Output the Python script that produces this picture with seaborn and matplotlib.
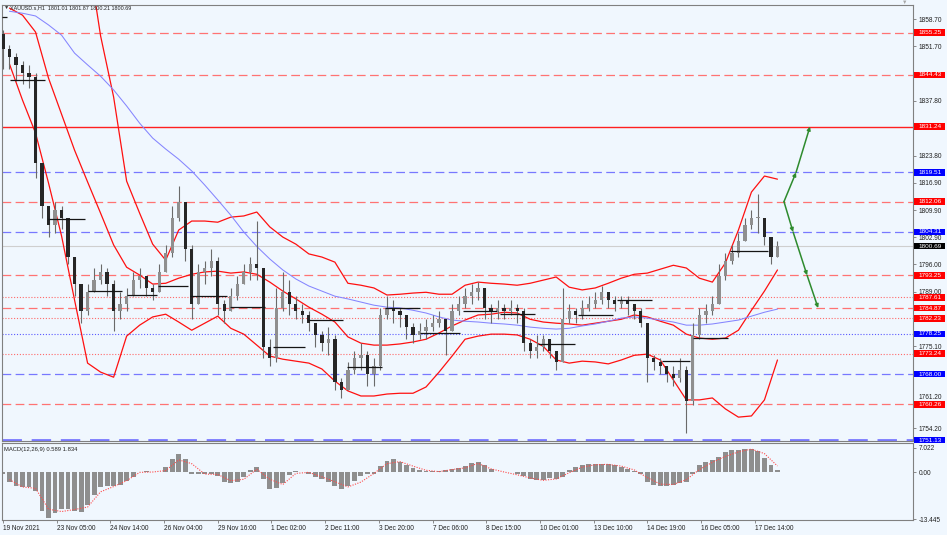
import numpy as np
import pandas as pd
import matplotlib
matplotlib.use("Agg")
import matplotlib.pyplot as plt
from matplotlib.patches import Rectangle
import matplotlib.transforms as mtransforms
import seaborn as sns

# ---------------- data ----------------
first_open = 1855.0
closes = [1851, 1849, 1847, 1845, 1844, 1822, 1811, 1806, 1810, 1808,
          1798, 1791, 1784, 1789, 1792, 1794, 1791, 1784, 1786, 1788,
          1792, 1793, 1790, 1789, 1794, 1799, 1808, 1812, 1800, 1786,
          1794, 1795, 1797, 1786, 1784, 1788, 1791, 1794, 1796, 1795,
          1775, 1772, 1785, 1789, 1786, 1784, 1783, 1781, 1778, 1776,
          1777, 1766, 1764, 1769, 1772, 1773, 1768, 1770, 1783, 1785,
          1784, 1783, 1780, 1778, 1779, 1780, 1781, 1782, 1779, 1784,
          1786, 1788, 1789, 1790, 1785, 1784, 1785, 1784, 1785, 1784,
          1776, 1774, 1775, 1777, 1774, 1771, 1782, 1784, 1783, 1785,
          1786, 1787, 1789, 1787, 1786, 1787, 1786, 1784, 1781, 1772,
          1771, 1770, 1768, 1767, 1769, 1761, 1778, 1783, 1784, 1786,
          1793, 1797, 1799, 1802, 1806, 1808, 1808, 1803, 1798, 1800.69]
highs = [1856, 1852, 1850, 1848, 1847, 1845, 1822, 1810, 1812, 1811,
         1808, 1798, 1791, 1791, 1795, 1796, 1795, 1792, 1789, 1790,
         1794, 1795, 1793, 1791, 1796, 1801, 1811, 1816, 1812, 1801,
         1796, 1797, 1800, 1798, 1787, 1790, 1793, 1796, 1798, 1807,
         1795, 1777, 1790, 1794, 1792, 1788, 1786, 1784, 1781, 1779,
         1780, 1778, 1767, 1771, 1774, 1776, 1774, 1772, 1785, 1788,
         1787, 1785, 1783, 1781, 1781, 1782, 1783, 1784, 1782, 1786,
         1788, 1790, 1791, 1791.5, 1790, 1786, 1787, 1786, 1787, 1786,
         1785, 1777, 1778, 1778, 1777, 1774, 1790, 1786, 1785, 1787,
         1788, 1789, 1790.5, 1789, 1788, 1788, 1788, 1786, 1785, 1781,
         1773, 1772, 1770, 1770, 1772, 1770, 1781, 1785, 1786, 1788,
         1796, 1799, 1801, 1804, 1808, 1810, 1814, 1808, 1803, 1802]
lows = [1846, 1846, 1843, 1842, 1841, 1818, 1808, 1803, 1804, 1805,
        1796, 1788, 1781, 1783, 1789, 1791, 1788, 1779, 1782, 1784,
        1788, 1790, 1788, 1787, 1789, 1794, 1798, 1807, 1797, 1782,
        1786, 1791, 1793, 1783, 1781, 1784, 1787, 1791, 1792, 1792,
        1772, 1770, 1771, 1784, 1783, 1782, 1781, 1779, 1775, 1774,
        1773, 1764, 1762, 1764, 1768, 1769, 1765, 1765, 1769, 1782,
        1781, 1780, 1777, 1776, 1777, 1777, 1779, 1780, 1773, 1779,
        1783, 1785, 1786, 1787, 1782, 1781, 1782, 1782, 1783, 1781,
        1774, 1772, 1772, 1774, 1772, 1769, 1771, 1781, 1781, 1782,
        1784, 1785, 1786, 1785, 1784, 1785, 1783, 1782, 1780, 1766,
        1769, 1768, 1766, 1765, 1766, 1753, 1760, 1777, 1781, 1783,
        1786, 1792, 1796, 1798, 1802, 1805, 1804, 1801, 1796, 1798]
bar_step_hours = 4

band_upper = [1868, 1870, 1874, 1880, 1884, 1884, 1876, 1854.4, 1838.8, 1817.3,
              1809.1, 1801.2, 1797.1, 1804.8, 1807.1, 1807.1, 1806.8, 1808.1, 1808.4, 1809.4,
              1805.6, 1803.0, 1801.2, 1798.7, 1797.9, 1796.6, 1791.2, 1790.7, 1790.0, 1788.2,
              1788.4, 1788.7, 1788.9, 1788.4, 1788.4, 1790.7, 1791.5, 1791.2, 1791.0, 1790.7,
              1791.2, 1792.0, 1792.8, 1790.2, 1789.5, 1790.0, 1791.2, 1792.5, 1793.5, 1793.8,
              1794.8, 1795.8, 1795.1, 1792.5, 1791.5, 1796.4, 1804.8, 1814.5, 1818.6, 1817.8]
band_middle = [1861.5, 1859.7, 1855.4, 1843.6, 1834.4, 1825.2, 1817.1, 1809.1, 1801.0, 1795.3,
               1793.3, 1791.0, 1791.2, 1792.5, 1793.5, 1794.1, 1794.3, 1793.8, 1794.1, 1793.5,
               1791.5, 1789.2, 1787.2, 1785.1, 1783.3, 1781.3, 1777.5, 1775.9, 1775.4, 1775.4,
               1775.7, 1776.2, 1776.9, 1778.5, 1780.3, 1781.8, 1783.1, 1783.3, 1783.8, 1783.6,
               1782.0, 1781.3, 1781.0, 1780.8, 1780.5, 1781.0, 1781.5, 1782.0, 1783.1, 1782.6,
               1781.5, 1780.5, 1778.2, 1777.2, 1776.9, 1777.2, 1779.2, 1784.3, 1789.2, 1794.6]
band_lower = [1847.2, 1838.0, 1829.6, 1816.8, 1803.3, 1786.9, 1770.8, 1768.5, 1767.2, 1777.7,
              1780.5, 1782.6, 1783.3, 1781.3, 1779.2, 1781.0, 1782.8, 1779.7, 1778.2, 1775.4,
              1772.6, 1771.8, 1771.3, 1770.8, 1769.3, 1766.2, 1763.7, 1762.4, 1762.4, 1762.9,
              1763.1, 1763.1, 1764.7, 1768.5, 1772.6, 1776.9, 1777.7, 1778.2, 1778.2, 1778.0,
              1776.9, 1775.1, 1771.6, 1770.8, 1771.3, 1771.1, 1770.6, 1771.6, 1772.8, 1773.1,
              1771.6, 1766.5, 1761.4, 1761.4, 1761.9, 1759.1, 1757.0, 1757.3, 1761.4, 1771.6]
moving_avg = [1860.7, 1860.2, 1859.5, 1857.2, 1854.6, 1850.0, 1847.0, 1844.1, 1840.6, 1836.5,
              1832.1, 1828.3, 1825.5, 1822.9, 1819.9, 1816.3, 1812.5, 1808.6, 1804.3, 1800.6,
              1797.4, 1794.6, 1792.3, 1790.5, 1789.2, 1787.9, 1787.2, 1786.4, 1785.6, 1785.1,
              1784.9, 1784.3, 1783.6, 1782.6, 1781.8, 1781.5, 1781.3, 1781.0, 1780.8, 1780.5,
              1780.0, 1779.7, 1779.5, 1779.7, 1780.3, 1780.8, 1781.5, 1782.3, 1782.6, 1782.3,
              1781.8, 1781.3, 1780.5, 1780.5, 1780.8, 1781.3, 1781.8, 1782.8, 1783.8, 1784.6]
ind_first_hour = 4
ind_step_hours = 8

macd_hist = [-0.6, -2.8, -4.0, -4.3, -4.3, -5.5, -11.0, -13.2, -11.6, -10.6,
             -10.6, -11.1, -11.5, -9.5, -6.5, -4.3, -3.9, -3.9, -3.6, -2.4,
             -1.3, 0.0, 0.3, 0.1, 0.1, 1.5, 3.8, 5.3, 3.8, -0.4,
             -0.5, -0.4, -0.4, -1.1, -2.8, -3.2, -2.7, -1.2, 0.8, 1.5,
             -2.0, -4.8, -4.6, -3.0, -0.8, 0.4, 0.0, -0.4, -1.2, -2.0,
             -2.8, -3.8, -4.8, -3.9, -2.4, -1.0, -0.6, -0.5, 1.9, 3.2,
             3.9, 3.0, 2.0, 1.2, 0.6, 0.4, 0.3, 0.5, 0.7, 1.0,
             1.3, 1.8, 2.6, 2.9, 2.0, 1.0, 0.1, 0.0, 0.0, -0.4,
             -1.0, -1.9, -2.1, -2.1, -1.6, -2.0, -1.2, 0.8, 1.6, 2.0,
             2.3, 2.4, 2.4, 2.3, 2.0, 1.6, 1.0, 0.3, -0.5, -2.8,
             -3.5, -3.9, -3.9, -3.7, -3.0, -2.9, -0.5, 2.0, 3.0, 3.7,
             4.5, 5.8, 6.4, 6.5, 6.6, 6.7, 6.2, 4.2, 2.0, 0.589]
macd_signal = [-2.1, -4.2, -4.6, -10.6, -11.3, -10.7, -10.0, -5.6, -4.1, -2.4,
               0.0, 0.1, 0.5, 3.6, 2.5, -0.5, -0.6, -2.4, -2.0, 0.9,
               -2.0, -3.5, -0.3, 0.0, -1.3, -2.7, -4.2, -2.8, -0.3, 2.5,
               3.1, 1.8, 0.6, 0.2, 0.8, 1.3, 2.6, 1.0, 0.1, -0.7,
               -1.6, -2.3, -1.9, -0.1, 1.5, 2.2, 2.3, 1.8, 0.7, -1.5,
               -3.4, -3.5, -2.1, 0.8, 2.9, 4.6, 5.9, 6.7, 5.4, 1.834]

# daily open markers (start hour, end hour, price)
seg_start = [-0.6, 4.3, 27.7, 52.2, 76.2, 95.3, 114.9, 139.5, 166.0, 187.5, 211.4,
             234.8, 256.3, 282.7, 305.5, 328.8, 353.4, 377.4, 405.0, 424.1, 446.8]
seg_end = [2.5, 25.8, 50.4, 73.1, 94.7, 113.7, 137.7, 161.0, 185.6, 209.0, 232.9,
           256.3, 280.9, 303.6, 327.0, 351.6, 374.9, 398.9, 422.2, 445.6, 470.2]
seg_price = [1859.2, 1843.1, 1807.6, 1789.2, 1788.2, 1790.5, 1788.0, 1785.1, 1775.0, 1781.8, 1769.8,
             1784.9, 1778.5, 1784.1, 1783.3, 1775.7, 1783.0, 1786.9, 1771.3, 1777.2, 1799.4]

level_prices = [1855.25, 1844.43, 1831.24, 1819.51, 1812.06, 1804.31, 1793.25, 1787.61,
                1784.87, 1782.23, 1778.25, 1773.24, 1768.00, 1760.26, 1751.13]
level_kind = ["rd", "rd", "rs", "bd", "rd", "bd", "rd", "ro",
              "rd", "ro", "bo", "ro", "bd", "rd", "bd"]
current_price = 1800.69

price_ticks = [1858.70, 1851.70, 1837.80, 1823.80, 1816.90, 1809.90, 1802.90,
               1796.00, 1789.00, 1775.10, 1761.20, 1754.20]
macd_ticks = [7.022, 0.0, -13.445]
macd_tick_labels = ["7.022", "0.00", "-13.445"]

date_tick_hours = [0, 33, 66, 99, 132, 165, 198, 231, 264, 297, 330, 363, 396, 429, 462]
date_labels = ["19 Nov 2021", "23 Nov 05:00", "24 Nov 14:00", "26 Nov 04:00", "29 Nov 16:00",
               "1 Dec 02:00", "2 Dec 11:00", "3 Dec 20:00", "7 Dec 06:00", "8 Dec 15:00",
               "10 Dec 01:00", "13 Dec 10:00", "14 Dec 19:00", "16 Dec 05:00", "17 Dec 14:00"]

arrow_up_hours = [480, 487.4, 496]
arrow_up_prices = [1812.06, 1819.51, 1831.24]
arrow_dn_hours = [480, 485.6, 494.2, 501]
arrow_dn_prices = [1812.06, 1804.31, 1793.25, 1784.87]

title_text = "XAUUSD.s,H1  1801.01 1801.87 1800.21 1800.69"
macd_text = "MACD(12,26,9) 0.589 1.834"

# ---------------- figure ----------------
sns.set_theme(style="white")
plt.rcParams["font.family"] = ["Liberation Sans", "DejaVu Sans"]

BG = "#F0F7FE"
W, H = 947, 535
fig = plt.figure(figsize=(W / 100, H / 100), dpi=100, facecolor=BG)
ax = fig.add_axes([2 / W, 1 - 441 / H, 911 / W, 436 / H], facecolor=BG)
ax2 = fig.add_axes([2 / W, 1 - 520 / H, 911 / W, 77 / H], facecolor=BG)

n = len(closes)
bar_hours = np.arange(n) * bar_step_hours
opens = [first_open] + closes[:-1]
ind_hours = ind_first_hour + np.arange(len(band_upper)) * ind_step_hours

# levels
styles = {
    "rd": dict(color="#FF7373", lw=0.9, ls=(0, (7, 3.5))),
    "rs": dict(color="#FF2020", lw=1.0, ls="-"),
    "ro": dict(color="#FF6A6A", lw=0.8, ls=(0, (1, 1.6))),
    "bd": dict(color="#7878FF", lw=0.9, ls=(0, (7, 3.5))),
    "bo": dict(color="#5A5AFF", lw=0.8, ls=(0, (1, 1.6))),
}
for p, k in zip(level_prices, level_kind):
    st = dict(styles[k])
    if p == level_prices[-1]:
        st["lw"] = 2.0
    ax.axhline(p, zorder=1, **st)
ax.axhline(current_price, color="#CFCFCF", lw=0.8, zorder=1)

# indicators
df_ind = pd.DataFrame({"hour": ind_hours, "upper": band_upper, "middle": band_middle,
                       "lower": band_lower, "ma": moving_avg, "signal": macd_signal})
for col in ["upper", "middle", "lower"]:
    sns.lineplot(data=df_ind, x="hour", y=col, ax=ax, color="#FF1010", lw=0.9, zorder=2)
sns.lineplot(data=df_ind, x="hour", y="ma", ax=ax, color="#8585FF", lw=0.75, zorder=2)

# candles
ax.vlines(bar_hours, lows, highs, color="#6A6A6A", lw=0.8, zorder=3)
o = np.array(opens, dtype=float)
c = np.array(closes, dtype=float)
body_bottom = np.minimum(o, c)
body_h = np.maximum(np.abs(c - o), 0.25)
body_col = ["#8F8F8F" if cc >= oo else "#262626" for oo, cc in zip(o, c)]
ax.bar(bar_hours, body_h, bottom=body_bottom, width=2.0, color=body_col, lw=0, zorder=4)

# daily markers
ax.hlines(seg_price, seg_start, seg_end, colors="#151515", lw=0.9, zorder=5)

# arrows
green = "#2E8B2E"
for hs, ps in [(arrow_up_hours, arrow_up_prices), (arrow_dn_hours, arrow_dn_prices)]:
    for i in range(len(hs) - 1):
        ax.annotate("", xy=(hs[i + 1], ps[i + 1]), xytext=(hs[i], ps[i]),
                    arrowprops=dict(arrowstyle="-|>", color=green, lw=1.1,
                                    mutation_scale=5, shrinkA=0, shrinkB=0), zorder=6)

x_lo, x_hi = -0.6, 559.3
ax.set_xlim(x_lo, x_hi)
ax.set_ylim(1750.9, 1862.3)
ax.set_xlabel("")
ax.set_ylabel("")
ax.set_xticks([])
ax.yaxis.tick_right()
ax.set_yticks(price_ticks)
ax.set_yticklabels([f"{v:.2f}" for v in price_ticks])
ax.tick_params(axis="y", which="both", left=False, right=True, length=2.5, width=0.6,
               color="#777777", labelsize=4.7, labelcolor="#202020", pad=1.5)
# nudge the tick label that sits right above a price box (as in the reference)
for lab, v in zip(ax.get_yticklabels(), price_ticks):
    if v == 1761.20:
        lab.set_transform(lab.get_transform() +
                          mtransforms.ScaledTranslation(0, 3.2 / 72, fig.dpi_scale_trans))

# right price labels
box_h = 1.7
for p, k in zip(level_prices, level_kind):
    fc = "#FF0000" if k[0] == "r" else "#0000FF"
    ax.add_patch(Rectangle((1.0012, p - box_h / 2), 0.0342, box_h, transform=ax.get_yaxis_transform(),
                           clip_on=False, fc=fc, ec="none", zorder=8))
    ax.text(1.0183, p, f"{p:.2f}", transform=ax.get_yaxis_transform(), ha="center", va="center",
            fontsize=4.6, color="white", zorder=9, clip_on=False)
ax.add_patch(Rectangle((1.0012, current_price - box_h / 2), 0.0342, box_h, transform=ax.get_yaxis_transform(),
                       clip_on=False, fc="#000000", ec="none", zorder=8))
ax.text(1.0183, current_price, f"{current_price:.2f}", transform=ax.get_yaxis_transform(),
        ha="center", va="center", fontsize=4.6, color="white", zorder=9, clip_on=False)

# MACD panel
ax2.bar(bar_hours, macd_hist, width=3.0, color="#8E8E8E", lw=0, zorder=2)
sns.lineplot(data=df_ind, x="hour", y="signal", ax=ax2, color="#FF4A4A", lw=0.8,
             linestyle=(0, (1, 1.3)), zorder=3)
ax2.set_xlim(x_lo, x_hi)
ax2.set_ylim(-13.73, 8.46)
ax2.set_xlabel("")
ax2.set_ylabel("")
ax2.yaxis.tick_right()
ax2.set_yticks(macd_ticks)
ax2.set_yticklabels(macd_tick_labels)
ax2.tick_params(axis="y", which="both", left=False, right=True, length=2.5, width=0.6,
                color="#777777", labelsize=4.7, labelcolor="#202020", pad=1.5)
ax2.set_xticks(date_tick_hours)
ax2.set_xticklabels(date_labels)
for lab in ax2.get_xticklabels():
    lab.set_ha("left")
ax2.tick_params(axis="x", which="both", bottom=True, direction="out", length=2.5, width=0.6,
                color="#777777", labelsize=4.7, labelcolor="#202020", pad=1.0)
ax2.text(0.002, 0.91, macd_text, transform=ax2.transAxes, fontsize=4.2, color="#202020",
         ha="left", va="center")

for a in (ax, ax2):
    for s in a.spines.values():
        s.set_color("#808080")
        s.set_linewidth(0.8)

# header
fig.text(4 / W, 1 - 7.5 / H, "▼", fontsize=3.8, color="#333333", ha="left", va="center")
fig.text(10 / W, 1 - 7.5 / H, title_text, fontsize=3.9, color="#202020", ha="left", va="center")
fig.text(905 / W, 1 - 2 / H, "▼", fontsize=4, color="#A8A8A8", ha="center", va="center")

fig.savefig("out.png", dpi=100, facecolor=BG)
